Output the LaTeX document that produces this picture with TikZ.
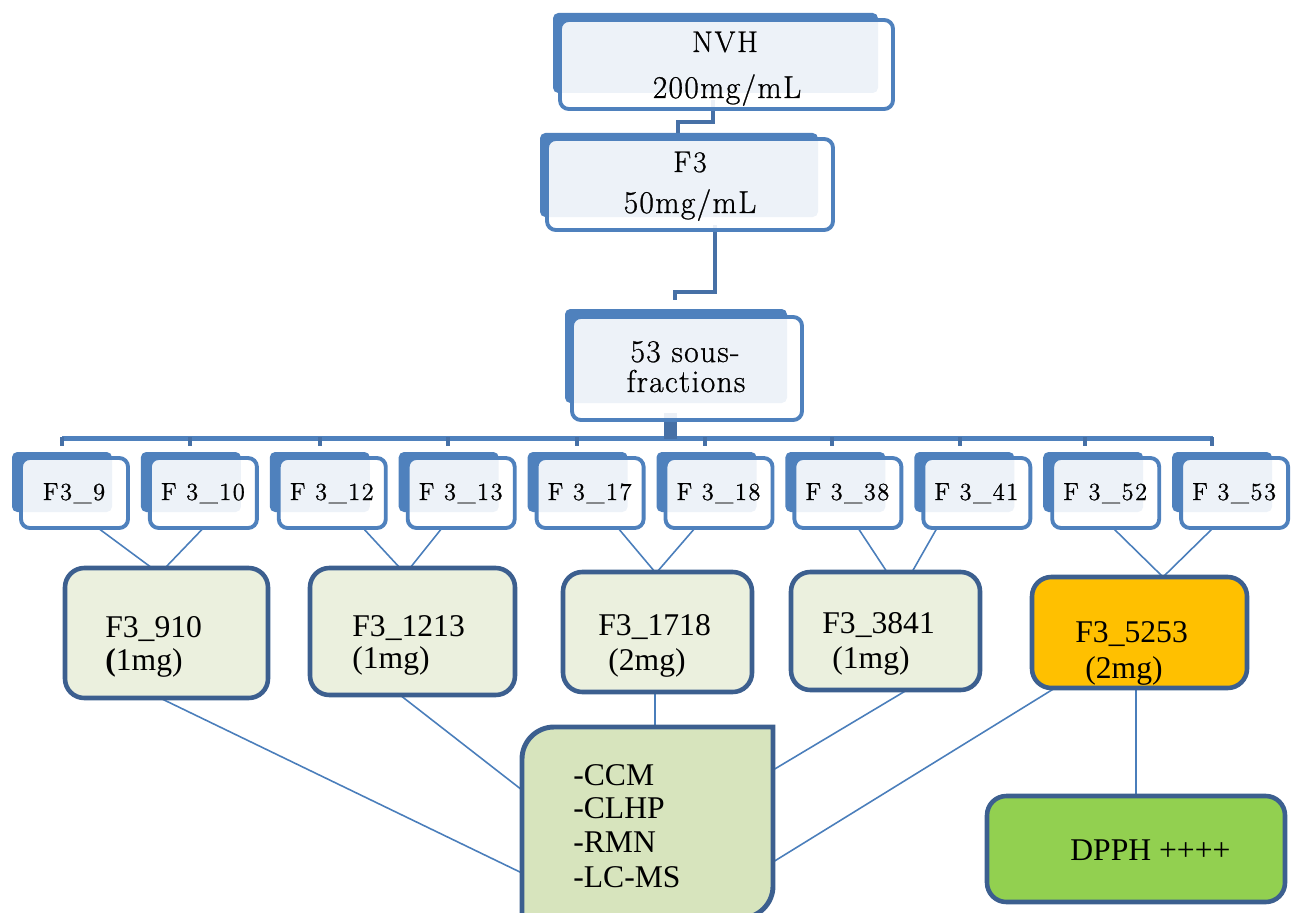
\documentclass[tikz,border=0pt]{standalone}
\usepackage{fontspec}
\newfontfamily\libser{Liberation Serif}
\newfontfamily\cent[LetterSpace=6,FakeBold=0.8]{Latin Modern Roman}
\newfontfamily\centw[LetterSpace=4,FakeBold=0.8]{Latin Modern Roman}
\usetikzlibrary{calc,backgrounds}
\definecolor{bblue}{HTML}{4F81BD}
\definecolor{elb}{HTML}{4670A6}
\definecolor{dblue}{HTML}{3C5F8F}
\definecolor{pale}{HTML}{EBF0DE}
\definecolor{meth}{HTML}{D7E4BD}
\definecolor{orng}{HTML}{FFC000}
\definecolor{grn}{HTML}{92D050}
\definecolor{thinc}{HTML}{4A7EBB}
\newcommand\bx[6]{\node[#6, minimum width={(#4-#2)*0.02cm}, minimum height={(#5-#3)*0.02cm}] (#1) at ({(#2+#4)/2},{(#3+#5)/2}) {};}
\begin{document}
\begin{tikzpicture}[x=0.02cm,y=-0.02cm,
  backbox/.style={fill=bblue, draw=none, rounded corners=3pt, inner sep=0pt, outer sep=0pt},
  frontbox/.style={draw=bblue, line width=2.2pt, fill=white, fill opacity=0.9, text opacity=1, rounded corners=5pt, inner sep=0pt, outer sep=0pt},
  lvl/.style={draw=dblue, line width=2.6pt, rounded corners=11pt, inner sep=0pt, outer sep=0pt},
  bigtxt/.style={font=\cent\fontsize{17}{20}\selectfont, inner sep=0pt, anchor=base},
  widetxt/.style={font=\centw\fontsize{18}{21}\selectfont, inner sep=0pt, anchor=base},
  smalltxt/.style={font=\cent\fontsize{14}{16}\selectfont, inner sep=0pt, anchor=base},
  sertxt/.style={font=\libser\fontsize{18}{21}\selectfont, inner sep=0pt, anchor=base west},
  link/.style={draw=thinc, line width=0.9pt},
  elbow/.style={draw=elb, line width=2.8pt},
  barline/.style={draw=bblue, line width=2.8pt},
  drop/.style={draw=elb, line width=2.3pt}]
\useasboundingbox (0,0) rectangle (1293,912);

% ---- top stacked boxes
\bx{nvhb}{553}{13}{878}{93}{backbox}
\bx{nvh}{560}{20}{893}{109}{frontbox}
\node[bigtxt] (nvht1) at (725,52) {NVH};
\node[widetxt] (nvht2) at (727,98) {200mg/mL};

\bx{f3b}{540}{133}{818}{217}{backbox}
\bx{f3}{547}{139}{833}{230}{frontbox}
\node[bigtxt] (f3t1) at (690,172) {F3};
\node[widetxt] (f3t2) at (690,213) {50mg/mL};

\bx{sfb}{565}{309}{787}{403}{backbox}
\bx{sf}{572}{317}{802}{420}{frontbox}
\node[widetxt] (sft1) at (685,362) {53 sous-};
\node[widetxt] (sft2) at (686,392) {fractions};

% ---- small boxes
\foreach \i/\t in {0/F3\_9,1/F 3\_10,2/F 3\_12,3/F 3\_13,4/F 3\_17,5/F 3\_18,6/F 3\_38,7/F 3\_41,8/F 3\_52,9/F 3\_53}{
  \pgfmathsetmacro\bl{12+128.9*\i}
  \pgfmathsetmacro\br{112+128.9*\i}
  \pgfmathsetmacro\fl{21+128.9*\i}
  \pgfmathsetmacro\fr{128+128.9*\i}
  \pgfmathsetmacro\tx{74+128.9*\i}
  \bx{b\i}{\bl}{452}{\br}{512}{backbox}
  \bx{s\i}{\fl}{458}{\fr}{528}{frontbox}
  \node[smalltxt] (st\i) at (\tx,500) {\t};
}

% ---- level-3 boxes
\bx{a}{65}{568}{268}{698}{lvl, fill=pale}
\bx{b}{310}{568}{515}{695}{lvl, fill=pale}
\bx{c}{563}{572}{752}{692}{lvl, fill=pale}
\bx{d}{791}{572}{980}{690}{lvl, fill=pale}
\bx{e}{1032}{577}{1247}{688}{lvl, fill=orng}
\bx{dpph}{987}{796}{1285}{902}{lvl, fill=grn}

\node[sertxt] (at1) at (105,637) {F3\_910};
\node[sertxt] (at2) at (105,670) {{\bfseries(}1mg)};
\node[sertxt] (bt1) at (352,636) {F3\_1213};
\node[sertxt] (bt2) at (352,668) {(1mg)};
\node[sertxt] (ct1) at (598,635) {F3\_1718};
\node[sertxt] (ct2) at (608,670) {(2mg)};
\node[sertxt] (dt1) at (822,633) {F3\_3841};
\node[sertxt] (dt2) at (832,668) {(1mg)};
\node[sertxt] (et1) at (1075,642) {F3\_5253};
\node[sertxt] (et2) at (1085,678) {(2mg)};
\node[sertxt] (dppht) at (1070,860) {DPPH ++++};

% ---- methods box
\bx{m}{522}{727}{773}{918}{inner sep=0pt, outer sep=0pt}
\path[draw=dblue, fill=meth, line width=2.8pt]
  (m.south west) -- ($(m.north west)+(0,32)$)
  arc[start angle=180, end angle=90, radius=0.64cm]
  -- (m.north east) -- ($(m.south east)+(0,-32)$)
  arc[start angle=0, end angle=-90, radius=0.64cm] -- cycle;
\node[sertxt] (mt1) at (573,785) {-CCM};
\node[sertxt] (mt2) at (573,818) {-CLHP};
\node[sertxt] (mt3) at (573,852) {-RMN};
\node[sertxt] (mt4) at (573,887) {-LC-MS};

% ---- connectors
\begin{pgfonlayer}{background}
\draw[elbow] ($(nvh.south)+(-13.5,-9)$) -- ($(nvh.south)+(-13.5,13)$) -| ($(f3b.north)+(-1,0)$);
\draw[elbow] ($(f3.south)+(25,-5)$) -- ($(f3.south)+(25,62)$) -| ($(sfb.north)+(-1,-9)$);
\coordinate (barL) at (62,438.5);
\coordinate (barR) at (1213,438.5);
\coordinate (barC) at (670,438.5);
\draw[barline] (barL) -- (barR);
\draw[draw=elb, line width=7.4pt] ($(sf.south)+(-17,-7)$) -- (barC);
\foreach \x [count=\k from 0] in {62,190,320,448,577,705,832,960,1085,1212}{
  \draw[drop] (\x,437) -- (\x,446);
}
% small boxes to level 3
\draw[link] ($(s0.south)+(23.5,0)$) -- ($(a.north)+(-14.5,0)$);
\draw[link] ($(s1.south)+(0,0)$) -- ($(a.north)+(-1.5,0)$);
\draw[link] ($(s2.south)+(30.7,0)$) -- ($(b.north)+(-12.5,0)$);
\draw[link] ($(s3.south)+(-19.2,0)$) -- ($(b.north)+(-2.5,0)$);
\draw[link] ($(s4.south)+(27.9,0)$) -- ($(c.north)+(-2.5,0)$);
\draw[link] ($(s5.south)+(-24,0)$) -- ($(c.north)+(-0.5,0)$);
\draw[link] ($(s6.south)+(10.1,0)$) -- ($(d.north)+(1.5,0)$);
\draw[link] ($(s7.south)+(-39.8,0)$) -- ($(d.north)+(26.5,0)$);
\draw[link] ($(s8.south)+(7.3,0)$) -- ($(e.north)+(23.5,0)$);
\draw[link] ($(s9.south)+(-21.6,0)$) -- ($(e.north)+(23.5,0)$);
% level 3 to methods
\draw[link] ($(a.south)+(-6.5,0)$) -- ($(m.west)+(0,50.5)$);
\draw[link] ($(b.south)+(-12.5,0)$) -- ($(m.west)+(0,-32.5)$);
\draw[link] ($(c.south)+(-2.5,0)$) -- ($(m.north)+(7.5,0)$);
\draw[link] ($(d.south)+(21.5,0)$) -- ($(m.east)+(0,-52.5)$);
\draw[link] ($(e.south)+(-84.5,0)$) -- ($(m.east)+(0,39.5)$);
\draw[link] ($(e.south)+(-3.5,0)$) -- (dpph.north);
\end{pgfonlayer}
\end{tikzpicture}
\end{document}
